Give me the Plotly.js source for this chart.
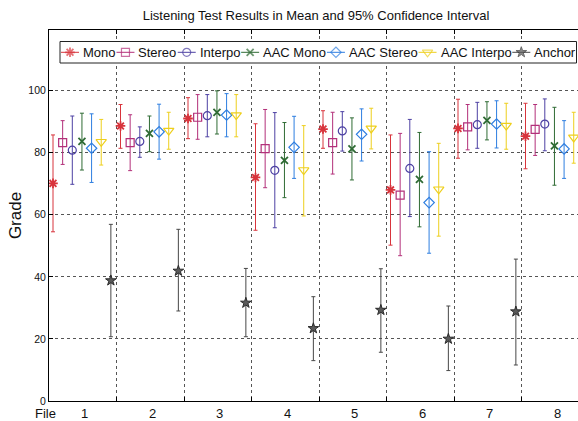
<!DOCTYPE html>
<html>
<head>
<meta charset="utf-8">
<script src="https://cdn.plot.ly/plotly-3.0.1.min.js"></script>
<style>html,body{margin:0;padding:0;background:#fff;}#chart{width:578px;height:421px;}</style>
</head>
<body>
<div id="chart"></div>
<script>
// ---- data ----
const files = [1, 2, 3, 4, 5, 6, 7, 8];
const seriesNames = ['Mono', 'Stereo', 'Interpo', 'AAC Mono', 'AAC Stereo', 'AAC Interpo', 'Anchor'];
const xLabelTexts = ['File', '1', '2', '3', '4', '5', '6', '7', '8'];
const yTickValues = [0, 20, 40, 60, 80, 100];

const monoMean  = [70.1, 88.6, 91.0, 72.0, 87.6, 68.0, 87.8, 85.3];
const monoUpper = [85.7, 95.5, 97.7, 89.3, 93.5, 85.7, 97.2, 95.9];
const monoLower = [54.5, 81.4, 84.5, 55.0, 81.4, 50.2, 78.2, 74.8];

const stereoMean  = [83.2, 83.2, 91.4, 81.3, 83.2, 66.3, 88.3, 87.5];
const stereoUpper = [90.3, 92.2, 98.7, 93.9, 93.0, 86.2, 95.5, 95.5];
const stereoLower = [76.2, 74.2, 84.3, 68.7, 73.1, 46.8, 80.9, 79.1];

const interpoMean  = [80.8, 83.6, 91.9, 74.3, 87.0, 74.9, 89.0, 89.2];
const interpoUpper = [91.8, 88.3, 98.7, 92.9, 93.2, 90.7, 96.2, 97.3];
const interpoLower = [69.8, 78.5, 85.1, 55.8, 80.5, 59.4, 81.4, 80.6];

const aacMonoMean  = [83.6, 86.2, 93.0, 77.5, 81.2, 71.4, 90.4, 82.2];
const aacMonoUpper = [92.7, 91.8, 99.9, 89.7, 91.2, 86.5, 96.4, 94.6];
const aacMonoLower = [74.4, 80.3, 86.0, 65.5, 71.2, 56.1, 84.1, 69.5];

const aacStereoMean  = [81.4, 86.7, 92.1, 81.7, 85.9, 63.9, 89.2, 81.2];
const aacStereoUpper = [92.5, 95.6, 99.0, 91.7, 94.1, 80.3, 96.7, 90.3];
const aacStereoLower = [70.4, 77.9, 85.1, 71.7, 77.3, 47.6, 81.5, 71.7];

const aacInterpoMean  = [83.5, 87.1, 92.1, 74.4, 87.8, 68.2, 88.7, 84.9];
const aacInterpoUpper = [90.7, 93.0, 98.7, 88.7, 94.3, 83.0, 95.9, 93.0];
const aacInterpoLower = [76.0, 81.1, 85.1, 59.6, 81.2, 53.1, 81.1, 76.6];

const anchorMean  = [38.8, 41.9, 31.6, 23.4, 29.3, 20.0, 28.8, null];
const anchorUpper = [56.9, 55.3, 42.7, 33.6, 42.6, 30.6, 45.7, null];
const anchorLower = [20.7, 29.0, 20.7, 13.0, 15.7, 9.8, 11.6, null];

// ---- styles ----
const FONT = '"Liberation Sans", Arial, Helvetica, sans-serif';
const styles = [
  {color: '#d8343c', symbol: 'asterisk-open', size: 8, lw: 1.8},
  {color: '#b3307a', symbol: 'square-open', size: 8, lw: 1.2},
  {color: '#4d40a3', symbol: 'circle-open', size: 8, lw: 1.2},
  {color: '#2f6b34', symbol: 'x-thin-open', size: 7, lw: 1.8},
  {color: '#2e7ee0', symbol: 'diamond-open', size: 8, lw: 1.2},
  {color: '#eecf1c', symbol: 'triangle-down-open', size: 9, lw: 1.2},
  {color: '#474747', symbol: 'star', size: 8, lw: 1}
];
const seriesData = [
  [monoMean, monoUpper, monoLower],
  [stereoMean, stereoUpper, stereoLower],
  [interpoMean, interpoUpper, interpoLower],
  [aacMonoMean, aacMonoUpper, aacMonoLower],
  [aacStereoMean, aacStereoUpper, aacStereoLower],
  [aacInterpoMean, aacInterpoUpper, aacInterpoLower],
  [anchorMean, anchorUpper, anchorLower]
];

function markerOf(st, size) {
  return {symbol: st.symbol, size: size, color: st.symbol === 'star' ? '#5a5a5a' : st.color,
    line: {color: st.symbol === 'star' ? '#2a2a2a' : st.color, width: st.lw}};
}

const nS = seriesNames.length;
const traces = [];
seriesData.forEach((d, i) => {
  const [mean, up, lo] = d;
  const st = styles[i];
  traces.push({
    type: 'scatter', mode: 'markers', name: seriesNames[i],
    x: files.map(f => f + (i - (nS - 1) / 2) / nS - 0.012),
    y: mean,
    marker: markerOf(st, st.size),
    error_y: {type: 'data', symmetric: false,
      array: mean.map((m, k) => m == null ? null : up[k] - m),
      arrayminus: mean.map((m, k) => m == null ? null : m - lo[k]),
      color: st.color, thickness: 1, width: 2},
    cliponaxis: true,
    hoverinfo: 'skip'
  });
});

// ---- custom MATLAB-style legend (laid out on a pixel overlay axis) ----
const ctx = document.createElement('canvas').getContext('2d');
const legFont = 13;
ctx.font = legFont + 'px ' + FONT;
const widths = seriesNames.map(n => ctx.measureText(n).width);
const boxL = 60, boxR = 576.5, boxT = 41.5, boxB = 63, cy = 52.3;
const symW = 18, txtOff = 20, padL = 1, padR = 3;
const natural = widths.reduce((a, w) => a + txtOff + w, 0);
const gap = (boxR - boxL - padL - padR - natural) / (nS - 1);
// legend frame (white, above the grid)
traces.push({
  type: 'scatter', mode: 'lines', xaxis: 'x2', yaxis: 'y2',
  x: [boxL, boxR, boxR, boxL, boxL], y: [boxT, boxT, boxB, boxB, boxT],
  fill: 'toself', fillcolor: '#fff', line: {color: '#222', width: 1},
  cliponaxis: false, hoverinfo: 'skip', showlegend: false
});
const annotations = [];
let s = boxL + padL;
seriesNames.forEach((n, i) => {
  const st = styles[i];
  traces.push({
    type: 'scatter', mode: 'lines+markers', xaxis: 'x2', yaxis: 'y2',
    x: [s, s + symW / 2, s + symW], y: [cy, cy, cy],
    line: {color: st.color, width: 1},
    marker: markerOf(st, [0, st.size, 0]),
    cliponaxis: false, hoverinfo: 'skip', showlegend: false
  });
  annotations.push({xref: 'x2', yref: 'y2', x: s + txtOff, y: cy, xanchor: 'left', yanchor: 'middle',
    text: n, showarrow: false, font: {size: legFont, color: '#111', family: FONT}});
  s += txtOff + widths[i] + gap;
});

const W = 578, H = 421, mL = 49, mT = 30, mB = 20;
const plotH = H - mT - mB, plotW = W - mL;
// x labels: "File" at the axis corner, then the file numbers under each group
xLabelTexts.forEach((t, k) => {
  annotations.push({xref: k === 0 ? 'paper' : 'x', yref: 'paper',
    x: k === 0 ? (45.7 - mL) / plotW : files[k - 1] + 0.03, y: -12.5 / plotH,
    xanchor: 'center', yanchor: 'middle', text: t, showarrow: false,
    font: {size: 13, color: '#111', family: FONT}});
});

const layout = {
  width: W, height: H,
  margin: {l: mL, r: 0, t: mT, b: mB, pad: 0},
  paper_bgcolor: '#fff', plot_bgcolor: '#fff',
  font: {family: FONT, size: 10, color: '#111'},
  showlegend: false,
  title: {text: 'Listening Test Results in Mean and 95% Confidence Interval',
    xref: 'container', x: 316 / W, xanchor: 'center', yref: 'container', y: 1 - 15.7 / H, yanchor: 'middle',
    font: {size: 13, color: '#111', family: FONT}},
  xaxis: {range: [0.5, 0.5 + plotW / 67.5], tickvals: files.slice(0, 7).map(f => f + 0.5),
    showticklabels: false, ticks: 'inside', ticklen: 4, tickcolor: '#000', tickwidth: 1,
    showline: true, linecolor: '#000', linewidth: 1, mirror: 'ticks',
    showgrid: true, gridcolor: '#555', griddash: 'dot', gridwidth: 1, zeroline: false, fixedrange: true},
  yaxis: {range: [0, 119.5], tickvals: yTickValues, ticks: 'inside', ticklen: 4, tickcolor: '#000',
    showline: true, linecolor: '#000', linewidth: 1, mirror: false,
    showgrid: true, gridcolor: '#555', griddash: 'dot', gridwidth: 1, zeroline: false,
    tickfont: {size: 10.5, color: '#111'},
    title: {text: 'Grade', font: {size: 17, color: '#111', family: FONT}, standoff: 2}, fixedrange: true},
  xaxis2: {overlaying: 'x', anchor: 'y2', range: [mL, W], visible: false, fixedrange: true},
  yaxis2: {overlaying: 'y', anchor: 'x2', range: [H - mB, mT], visible: false, fixedrange: true},
  annotations: annotations
};

Plotly.newPlot('chart', traces, layout, {staticPlot: true, displayModeBar: false});
</script>
</body>
</html>
